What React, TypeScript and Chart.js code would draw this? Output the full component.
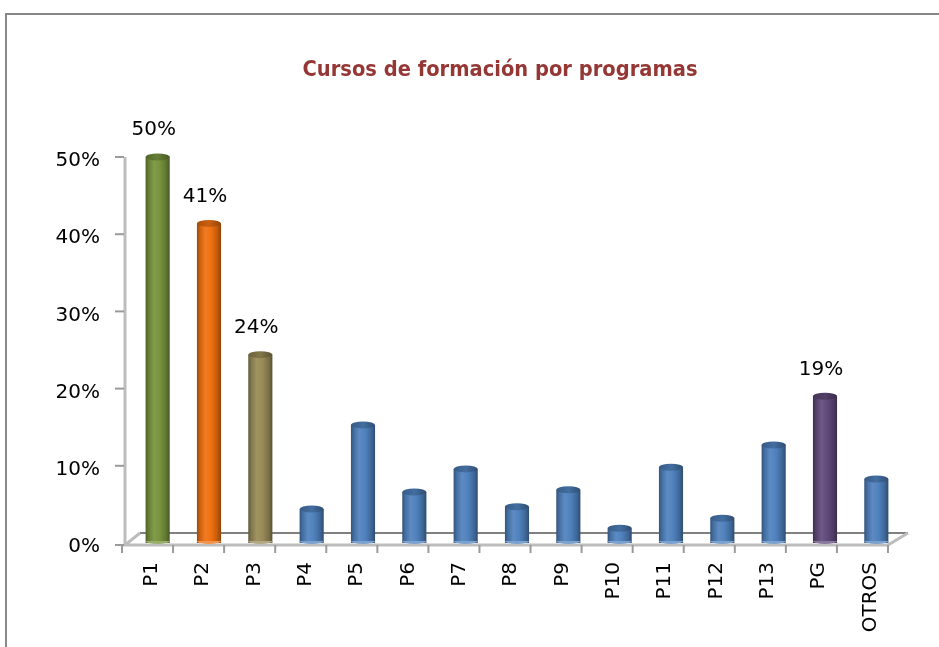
import React, { useEffect, useRef } from "react";
import { Chart, registerables } from "chart.js";

Chart.register(...registerables);

const TITLE = "Cursos de formación por programas";
const CATEGORIES = ["P1", "P2", "P3", "P4", "P5", "P6", "P7", "P8", "P9", "P10", "P11", "P12", "P13", "PG", "OTROS"];
const VALUES = [50, 41.4, 24.4, 4.4, 15.3, 6.6, 9.6, 4.7, 6.9, 1.9, 9.8, 3.2, 12.7, 19.0, 8.3];
const SHOW_LABEL = [true, true, true, false, false, false, false, false, false, false, false, false, false, true, false];
const BAR_COLORS = [
  "#77933C", "#F07010", "#988B57", "#4F81BD", "#4F81BD", "#4F81BD", "#4F81BD", "#4F81BD",
  "#4F81BD", "#4F81BD", "#4F81BD", "#4F81BD", "#4F81BD", "#604A7B", "#4F81BD",
];
const Y_TICKS_MAX = 50;
const Y_STEP = 10;

function shade(hex: string, f: number): string {
  const n = parseInt(hex.slice(1), 16);
  let r = (n >> 16) & 255, g = (n >> 8) & 255, b = n & 255;
  if (f <= 1) {
    r *= f; g *= f; b *= f;
  } else {
    const t = f - 1;
    r += (255 - r) * t; g += (255 - g) * t; b += (255 - b) * t;
  }
  return `rgb(${Math.round(r)},${Math.round(g)},${Math.round(b)})`;
}

const FONT = "'DejaVu Sans', sans-serif";

const decorPlugin = {
  id: "decor",
  beforeDraw(chart: any) {
    const ctx = chart.ctx;
    ctx.save();
    ctx.strokeStyle = "#888888";
    ctx.lineWidth = 2;
    ctx.beginPath();
    ctx.moveTo(6, 700);
    ctx.lineTo(6, 14);
    ctx.lineTo(960, 14);
    ctx.stroke();
    ctx.fillStyle = "#953735";
    ctx.font = `bold 19.5px ${FONT}`;
    ctx.textAlign = "center";
    ctx.textBaseline = "middle";
    ctx.translate(500, 70);
    ctx.scale(1, 1.12);
    ctx.fillText(TITLE, 0, 0);
    ctx.restore();
  },
  beforeDatasetsDraw(chart: any) {
    const ctx = chart.ctx;
    const area = chart.chartArea;
    const ys = chart.scales.y;
    const xs = chart.scales.x;
    const n = CATEGORIES.length;
    const catW = (area.right - area.left) / n;
    const axisX = area.left - 7;
    const frontY = area.bottom + 2;
    const backY = area.bottom - 10;
    ctx.save();
    // back floor line
    ctx.strokeStyle = "#808080";
    ctx.lineWidth = 2;
    ctx.beginPath();
    ctx.moveTo(axisX + 15, backY);
    ctx.lineTo(area.right + 6, backY);
    ctx.stroke();
    // front floor
    ctx.strokeStyle = "#BDBDBD";
    ctx.lineWidth = 3;
    ctx.beginPath();
    ctx.moveTo(axisX + 15, backY);
    ctx.lineTo(axisX, frontY);
    ctx.lineTo(area.right - 14, frontY);
    ctx.lineTo(area.right + 6, backY);
    ctx.stroke();
    // y axis line
    ctx.beginPath();
    ctx.moveTo(axisX, ys.getPixelForValue(Y_TICKS_MAX));
    ctx.lineTo(axisX, frontY);
    ctx.stroke();
    // y tick marks
    ctx.strokeStyle = "#9A9A9A";
    ctx.lineWidth = 2;
    for (const t of ys.ticks) {
      const y = ys.getPixelForValue(t.value) + (t.value === 0 ? 2 : 0);
      ctx.beginPath();
      ctx.moveTo(axisX - 10, y);
      ctx.lineTo(axisX - 1, y);
      ctx.stroke();
    }
    // x tick marks
    for (let i = 0; i <= n; i++) {
      const bx = xs.getPixelForValue(0) - catW / 2 + i * catW - 10 - (i / n) * 4;
      ctx.beginPath();
      ctx.moveTo(bx, frontY);
      ctx.lineTo(bx, frontY + 8);
      ctx.stroke();
    }
    ctx.restore();
  },
  afterDatasetsDraw(chart: any) {
    const ctx = chart.ctx;
    const meta = chart.getDatasetMeta(0);
    ctx.save();
    meta.data.forEach((bar: any, i: number) => {
      const { x, y, base, width } = bar.getProps(["x", "y", "base", "width"], true);
      const c = BAR_COLORS[i];
      const rx = width / 2;
      // bottom highlight
      ctx.fillStyle = shade(c, 1.25);
      ctx.beginPath();
      ctx.ellipse(x, base - 2, rx, 3, 0, 0, Math.PI);
      ctx.fill();
      // top cap
      const g = ctx.createLinearGradient(x - rx, 0, x + rx, 0);
      g.addColorStop(0, shade(c, 0.7));
      g.addColorStop(0.5, shade(c, 0.85));
      g.addColorStop(1, shade(c, 0.6));
      ctx.fillStyle = g;
      ctx.beginPath();
      ctx.ellipse(x, y, rx, 3.5, 0, 0, Math.PI * 2);
      ctx.fill();
      if (SHOW_LABEL[i]) {
        ctx.fillStyle = "#000000";
        ctx.font = `20px ${FONT}`;
        ctx.textAlign = "center";
        ctx.textBaseline = "middle";
        ctx.fillText(`${Math.round(VALUES[i])}%`, x - 4, y - 27);
      }
    });
    ctx.restore();
  },
};

export default function App() {
  const ref = useRef<HTMLCanvasElement | null>(null);
  useEffect(() => {
    if (!ref.current) return;
    const chart = new Chart(ref.current, {
      type: "bar",
      data: {
        labels: CATEGORIES,
        datasets: [
          {
            data: VALUES,
            backgroundColor: (c: any) => {
              const base = BAR_COLORS[c.dataIndex] || "#4F81BD";
              const chart = c.chart;
              const xs = chart.scales && chart.scales.x;
              if (!chart.chartArea || !xs || c.type !== "data") return base;
              const x = xs.getPixelForValue(c.dataIndex);
              const hw = 12;
              const g = chart.ctx.createLinearGradient(x - hw, 0, x + hw, 0);
              g.addColorStop(0, shade(base, 0.65));
              g.addColorStop(0.12, shade(base, 0.85));
              g.addColorStop(0.35, shade(base, 1.08));
              g.addColorStop(0.6, shade(base, 1.0));
              g.addColorStop(0.85, shade(base, 0.8));
              g.addColorStop(1, shade(base, 0.6));
              return g;
            },
            borderWidth: 0,
            barPercentage: 0.47,
            categoryPercentage: 1,
          },
        ],
      },
      options: {
        responsive: false,
        animation: false,
        devicePixelRatio: 1,
        layout: { padding: { left: 20, right: 37, top: 157, bottom: 0 } },
        plugins: {
          legend: { display: false },
          title: { display: false },
          tooltip: { enabled: false },
        },
        scales: {
          x: {
            grid: { display: false, drawTicks: false },
            border: { display: false },
            ticks: {
              autoSkip: false,
              minRotation: 90,
              maxRotation: 90,
              padding: 19,
              labelOffset: -6,
              color: "#000000",
              font: { family: FONT, size: 20 },
            },
            afterFit: (s: any) => {
              s.height = 104;
            },
          },
          y: {
            min: 0,
            max: Y_TICKS_MAX,
            grid: { display: false, drawTicks: false },
            border: { display: false },
            ticks: {
              stepSize: Y_STEP,
              padding: 32,
              labelOffset: 4,
              color: "#000000",
              font: { family: FONT, size: 20 },
              callback: (v: any) => `${v}%`,
            },
            afterFit: (s: any) => {
              s.width = 112;
            },
          },
        },
      },
      plugins: [decorPlugin],
    } as any);
    return () => chart.destroy();
  }, []);
  return (
    <div style={{ position: "fixed", left: 0, top: 0, width: 939, height: 647, background: "#fff" }}>
      <canvas ref={ref} width={939} height={647} style={{ display: "block" }} />
    </div>
  );
}
